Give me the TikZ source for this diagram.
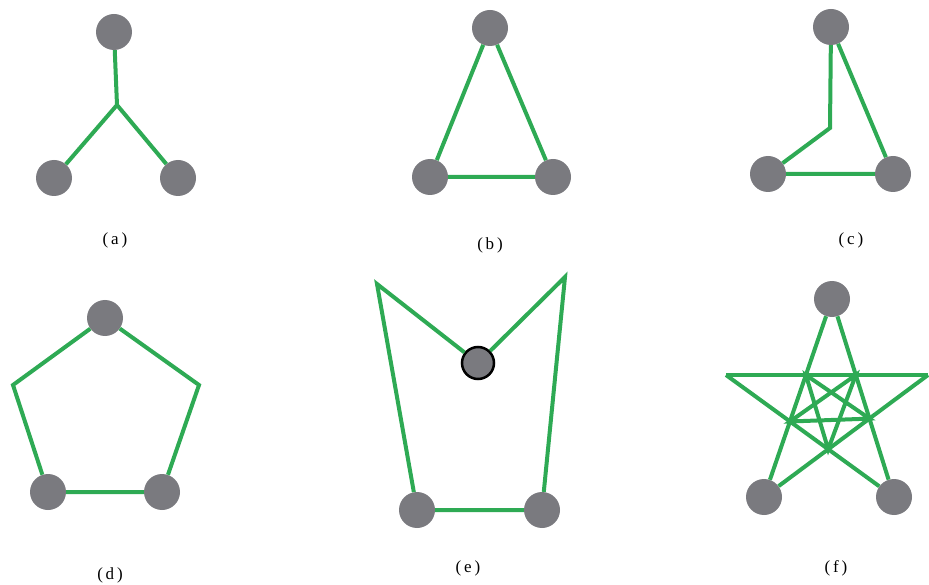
\documentclass[tikz,border=0pt]{standalone}
\usepackage{fontspec}
\setmainfont{Liberation Serif}
\usepackage{tikz}

\definecolor{linkgreen}{RGB}{46,170,84}
\definecolor{vtxgray}{RGB}{122,122,127}

\begin{document}
\begin{tikzpicture}[
  x=1pt, y=-1pt,
  vtx/.style = {circle, fill=vtxgray, minimum size=36pt, inner sep=0pt},
  hub/.style = {vtx, draw=black, line width=2.5pt, minimum size=32pt},
  link/.style = {draw=linkgreen, line width=4pt},
  caption/.style = {font=\fontsize{17}{19}\selectfont}
]
\useasboundingbox (0,0) rectangle (929,585);

% (a)
\node[vtx] (a1) at (114,32) {};
\node[vtx] (a2) at (54,178) {};
\node[vtx] (a3) at (178,178) {};
\coordinate (a0) at (117,105);
\draw[link] (a1) -- (a0) -- (a2);
\draw[link] (a0) -- (a3);
\node[caption] (la) at (115,240) {(\,a\,)};

% (b)
\node[vtx] (b1) at (490,28) {};
\node[vtx] (b2) at (430,177) {};
\node[vtx] (b3) at (553,177) {};
\draw[link] (b1) -- (b2) -- (b3) -- (b1);
\node[caption] (lb) at (490,245) {(\,b\,)};

% (c)
\node[vtx] (c1) at (831,27) {};
\node[vtx] (c2) at (768,174) {};
\node[vtx] (c3) at (893,174) {};
\coordinate (c0) at (830,128);
\draw[link] (c1) -- (c0) -- (c2);
\draw[link] (c2) -- (c3) -- (c1);
\node[caption] (lc) at (851,240) {(\,c\,)};

% (d)
\node[vtx] (d1) at (105,318) {};
\node[vtx] (d2) at (48,492) {};
\node[vtx] (d3) at (162,492) {};
\coordinate (dl) at (13,385);
\coordinate (dr) at (199,385);
\draw[link] (d1) -- (dl) -- (d2) -- (d3) -- (dr) -- (d1);
\node[caption] (ld) at (110,575) {(\,d\,)};

% (e)
\node[hub] (e1) at (478,363) {};
\node[vtx] (e2) at (417,510) {};
\node[vtx] (e3) at (542,510) {};
\coordinate (el) at (377,284);
\coordinate (er) at (565,277);
\draw[link] (e1) -- (el) -- (e2) -- (e3) -- (er) -- (e1);
\node[caption] (le) at (468,568) {(\,e\,)};

% (f)
\coordinate (ft) at (832,299);
\coordinate (fa) at (764,497);
\coordinate (fb) at (894,497);
\coordinate (fl) at (726,375);
\coordinate (fr) at (928,375);
\coordinate (i1) at (intersection of ft--fa and fl--fr);
\coordinate (i2) at (intersection of ft--fb and fl--fr);
\coordinate (i3) at (intersection of ft--fa and fl--fb);
\coordinate (i4) at (intersection of ft--fb and fr--fa);
\coordinate (i5) at (intersection of fl--fb and fr--fa);
\node[vtx] (f1) at (ft) {};
\node[vtx] (f2) at (fa) {};
\node[vtx] (f3) at (fb) {};
\draw[link] (f1) -- (f2);
\draw[link] (f1) -- (f3);
\draw[link] (fl) -- (fr);
\draw[link] (fl) -- (f3);
\draw[link] (fr) -- (f2);
\draw[link] (i1) -- (i4) -- (i3) -- (i2) -- (i5) -- cycle;
\node[caption] (lf) at (836,568) {(\,f\,)};
\end{tikzpicture}
\end{document}
